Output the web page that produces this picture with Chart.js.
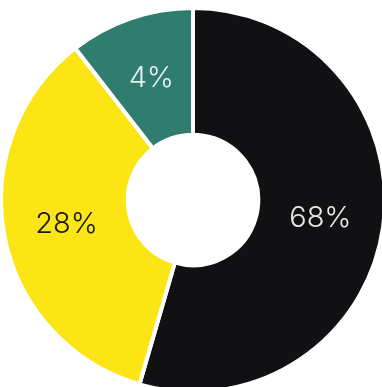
<!DOCTYPE html>
<html>
<head>
<meta charset="utf-8">
<script src="https://cdn.jsdelivr.net/npm/chart.js@4"></script>
<style>
  html, body { margin: 0; padding: 0; background: #fff; overflow: hidden; width: 382px; height: 387px; }
  #wrap { position: absolute; left: -1px; top: 6px; width: 388px; height: 388px; }
</style>
</head>
<body>
<div id="wrap"><canvas id="chart"></canvas></div>
<script>
// arc shares as drawn in the picture (the printed labels differ from the drawn arcs)
const categories = ["黒", "黄", "緑"];
const shares = [54.5, 35, 10.5];
const labelTexts = ["68%", "28%", "4%"];
const sliceColors = ["#111113", "#fbe514", "#2f7d6f"];
const labelColors = ["#e8e8e8", "#1a1a1a", "#e6f0ee"];

// 各スライスの中央にラベルを描く
const sliceLabels = {
  id: "sliceLabels",
  afterDatasetsDraw(chart) {
    const ctx = chart.ctx;
    const meta = chart.getDatasetMeta(0);
    ctx.save();
    ctx.font = "300 29px Inter, 'Noto Sans', sans-serif";
    ctx.textAlign = "center";
    ctx.textBaseline = "middle";
    meta.data.forEach((arc, i) => {
      const p = arc.tooltipPosition();
      ctx.fillStyle = labelColors[i];
      ctx.fillText(labelTexts[i], p.x, p.y);
    });
    ctx.restore();
  }
};

new Chart(document.getElementById("chart").getContext("2d"), {
  type: "doughnut",
  data: {
    labels: categories,
    datasets: [{
      data: shares,
      backgroundColor: sliceColors,
      borderColor: "#ffffff",
      borderWidth: 4
    }]
  },
  options: {
    animation: false,
    responsive: true,
    maintainAspectRatio: false,
    cutout: "34%",
    rotation: 0,
    layout: { padding: 0 },
    plugins: {
      legend: { display: false },
      tooltip: { enabled: false }
    }
  },
  plugins: [sliceLabels]
});
</script>
</body>
</html>
